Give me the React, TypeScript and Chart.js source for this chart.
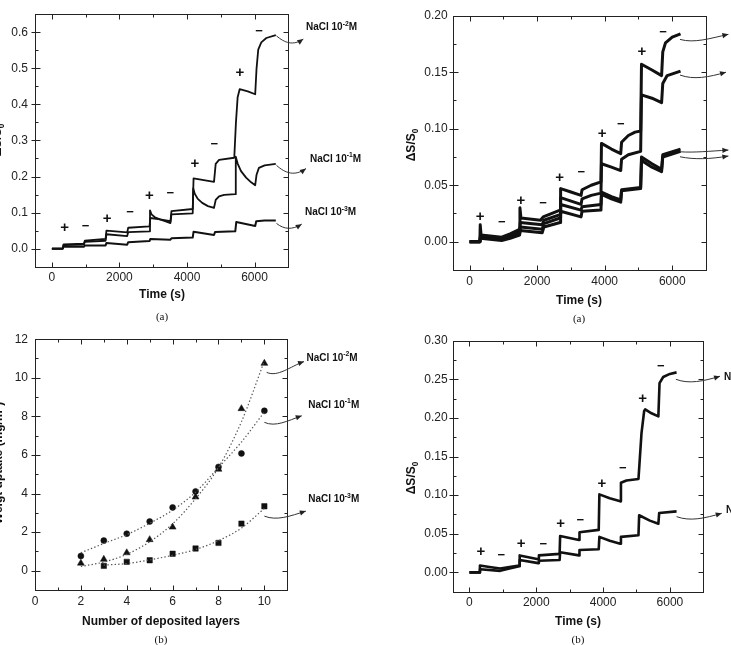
import React, { useEffect, useRef } from "react";
import { Chart, registerables } from "chart.js";

Chart.register(...registerables);

const FONT = '"Liberation Sans", Arial, Helvetica, sans-serif';
const SERIF = '"Liberation Serif", "Times New Roman", serif';
Chart.defaults.font.family = FONT;

// ================= Panel (a) left : ΔS/S0 vs time, three NaCl concentrations =================
const aTimeHi = [0, 320, 345, 950, 975, 1590, 1615, 2230, 2260, 2890, 2915, 3200, 3510, 3540, 4170, 4195, 4800, 4850, 4950, 5400, 5450, 5500, 5560, 5800, 6020, 6060, 6110, 6200, 6350, 6630];
const aSalt2 = [0, 0, 0.012, 0.014, 0.022, 0.027, 0.05, 0.045, 0.058, 0.062, 0.085, 0.081, 0.076, 0.104, 0.11, 0.195, 0.185, 0.235, 0.246, 0.252, 0.35, 0.42, 0.442, 0.436, 0.428, 0.5, 0.552, 0.572, 0.584, 0.592];
const aTimeMid = [0, 320, 345, 950, 975, 1590, 1615, 2230, 2260, 2890, 2905, 2950, 3050, 3200, 3350, 3510, 3540, 4170, 4185, 4230, 4320, 4450, 4620, 4800, 4850, 4950, 5100, 5430, 5445, 5500, 5600, 5750, 5900, 6020, 6060, 6130, 6300, 6630];
const aSalt1 = [0, 0, 0.01, 0.011, 0.019, 0.022, 0.04, 0.035, 0.046, 0.048, 0.106, 0.095, 0.087, 0.081, 0.076, 0.071, 0.095, 0.098, 0.167, 0.152, 0.138, 0.127, 0.118, 0.113, 0.135, 0.145, 0.149, 0.151, 0.255, 0.236, 0.215, 0.197, 0.184, 0.176, 0.205, 0.224, 0.231, 0.235];
const aTimeLo = [0, 320, 345, 950, 975, 1590, 1615, 2230, 2260, 2890, 2915, 3510, 3540, 4170, 4195, 4800, 4830, 5430, 5460, 6020, 6050, 6300, 6630];
const aSalt3 = [0, 0, 0.006, 0.005, 0.009, 0.009, 0.016, 0.011, 0.018, 0.021, 0.027, 0.025, 0.029, 0.031, 0.047, 0.038, 0.046, 0.048, 0.074, 0.063, 0.076, 0.078, 0.078];
const aXTicks = [0, 2000, 4000, 6000];
const aYTicks = [0, 0.1, 0.2, 0.3, 0.4, 0.5, 0.6];
const aSigns = ["+", "−", "+", "−", "+", "−", "+", "−", "+", "−"];
const aSignT = [374, 995, 1635, 2315, 2886, 3507, 4236, 4807, 5565, 6137];
const aSignY = [0.057, 0.063, 0.083, 0.1, 0.147, 0.152, 0.236, 0.288, 0.488, 0.603];

// ================= Panel (b) left : weight uptake vs number of layers =================
const layers = [2, 3, 4, 5, 6, 7, 8, 9, 10];
const uptake2 = [0.39, 0.59, 0.93, 1.61, 2.26, 3.82, 5.26, 8.4, 10.75];
const uptake1 = [0.76, 1.56, 1.92, 2.55, 3.28, 4.11, 5.38, 6.08, 8.29];
const layersSq = [3, 4, 5, 6, 7, 8, 9, 10];
const uptake3 = [0.25, 0.46, 0.54, 0.88, 1.15, 1.44, 2.44, 3.34];
const fit2 = [0.22, 0.45, 0.85, 1.5, 2.43, 3.73, 5.35, 7.72, 10.87];
const fit1 = [0.93, 1.41, 1.87, 2.46, 3.14, 4.07, 5.35, 6.67, 8.23];
const fit3 = [0.29, 0.37, 0.56, 0.8, 1.1, 1.56, 2.21, 3.23];
const bXTicks = [0, 2, 4, 6, 8, 10];
const bYTicks = [0, 2, 4, 6, 8, 10, 12];

// ================= Panel (a) right : ΔS/S0 vs time, four curves =================
const cTimeA = [0, 305, 315, 340, 950, 1200, 1480, 1491, 1520, 2100, 2180, 2680, 2695, 3000, 3300, 3330, 3600, 3890, 3905, 4200, 4475, 4500, 4700, 4900, 5065, 5090, 5400, 5685, 5720, 5800, 6000, 6246];
const cA = [0, 0, 0.015, 0.006, 0.004, 0.007, 0.011, 0.03, 0.021, 0.019, 0.022, 0.028, 0.047, 0.044, 0.041, 0.046, 0.05, 0.053, 0.087, 0.082, 0.078, 0.088, 0.094, 0.097, 0.098, 0.157, 0.152, 0.147, 0.168, 0.176, 0.181, 0.184];
const cTimeB = [0, 305, 320, 950, 1200, 1480, 1500, 2150, 2200, 2680, 2695, 3300, 3330, 3600, 3890, 3905, 4200, 4475, 4500, 4700, 5065, 5090, 5400, 5685, 5720, 5850, 6246];
const cB = [0, 0, 0.005, 0.003, 0.005, 0.009, 0.017, 0.015, 0.019, 0.024, 0.039, 0.033, 0.038, 0.041, 0.043, 0.069, 0.066, 0.063, 0.073, 0.077, 0.08, 0.13, 0.127, 0.123, 0.14, 0.147, 0.151];
const cTimeCD = [0, 305, 320, 950, 1200, 1480, 1500, 2150, 2200, 2680, 2695, 3300, 3330, 3890, 3905, 4200, 4475, 4500, 5065, 5090, 5400, 5685, 5720, 6246];
const cC = [0, 0, 0.004, 0.002, 0.004, 0.007, 0.013, 0.011, 0.016, 0.021, 0.033, 0.028, 0.031, 0.033, 0.044, 0.04, 0.037, 0.046, 0.048, 0.075, 0.069, 0.064, 0.077, 0.082];
const cD = [0, 0, 0.003, 0.001, 0.003, 0.006, 0.01, 0.008, 0.013, 0.017, 0.027, 0.022, 0.027, 0.028, 0.042, 0.038, 0.035, 0.045, 0.047, 0.072, 0.066, 0.062, 0.075, 0.08];
const cXTicks = [0, 2000, 4000, 6000];
const cYTicks = [0, 0.05, 0.1, 0.15, 0.2];
const cSigns = ["+", "−", "+", "−", "+", "−", "+", "−", "+", "−"];
const cSignT = [314, 951, 1520, 2176, 2667, 3304, 3922, 4480, 5098, 5725];
const cSignY = [0.0218, 0.0174, 0.0365, 0.0338, 0.0565, 0.061, 0.0953, 0.1035, 0.1676, 0.1853];

// ================= Panel (b) right : ΔS/S0 vs time, two curves =================
const dTimeTop = [0, 300, 315, 600, 920, 1200, 1490, 1505, 2060, 2080, 2700, 2715, 3280, 3295, 3870, 3890, 4200, 4515, 4535, 4700, 5060, 5150, 5230, 5260, 5450, 5655, 5690, 5800, 6000, 6200];
const dTop = [0, 0, 0.009, 0.007, 0.005, 0.007, 0.009, 0.022, 0.017, 0.022, 0.024, 0.047, 0.042, 0.052, 0.055, 0.101, 0.096, 0.092, 0.116, 0.119, 0.121, 0.18, 0.209, 0.211, 0.206, 0.202, 0.245, 0.253, 0.257, 0.259];
const dTimeBot = [0, 300, 315, 920, 1200, 1490, 1505, 2060, 2080, 2700, 2715, 3280, 3295, 3870, 3890, 4200, 4515, 4535, 5060, 5080, 5400, 5655, 5680, 6200];
const dBot = [0, 0, 0.004, 0.002, 0.005, 0.008, 0.016, 0.012, 0.015, 0.016, 0.026, 0.022, 0.029, 0.03, 0.046, 0.041, 0.037, 0.046, 0.048, 0.074, 0.067, 0.063, 0.077, 0.079];
const dXTicks = [0, 2000, 4000, 6000];
const dYTicks = [0, 0.05, 0.1, 0.15, 0.2, 0.25, 0.3];
const dSigns = ["+", "−", "+", "−", "+", "−", "+", "−", "+", "−"];
const dSignT = [347, 952, 1547, 2211, 2727, 3322, 3966, 4591, 5186, 5731];
const dSignY = [0.0268, 0.0225, 0.0367, 0.0367, 0.0626, 0.067, 0.114, 0.134, 0.2246, 0.2665];

// ================= helpers =================
type Part = { t: string; s?: "sup" | "sub" };
interface Mark { sign: string; x: number; y: number }
interface Label { parts: Part[]; x: number; y: number }
interface Arrow { x0: number; y0: number; x1: number; y1: number; sag: number }
interface AxisSpec { min: number; max: number; ticks: number[]; minor: number; dec: number }
interface Panel {
  box: { left: number; top: number; w: number; h: number };
  area: { l: number; r: number; t: number; b: number };
  x: AxisSpec;
  y: AxisSpec;
  yPad: number;
  datasets: any[];
  marks: Mark[];
  labels: Label[];
  arrows: Arrow[];
  xTitle: { text: string; x: number; y: number };
  caption: { text: string; x: number; y: number };
  yTitle: { parts: Part[]; x: number; y: number };
}

const pts = (xs: number[], ys: number[]) => xs.map((x, i) => ({ x, y: ys[i] }));
const lineDs = (xs: number[], ys: number[], w: number) => ({
  data: pts(xs, ys),
  showLine: true,
  pointRadius: 0,
  borderColor: "#111",
  backgroundColor: "#111",
  borderWidth: w,
  tension: 0,
  borderJoinStyle: "round",
});
const markerDs = (xs: number[], ys: number[], style: string, r: number) => ({
  data: pts(xs, ys),
  showLine: false,
  pointStyle: style,
  pointRadius: r,
  borderWidth: 0.5,
  borderColor: "#111",
  backgroundColor: "#111",
});
const fitDs = (xs: number[], ys: number[]) => ({
  data: pts(xs, ys),
  showLine: true,
  pointRadius: 0,
  borderColor: "#555",
  borderWidth: 1.2,
  borderDash: [1.4, 2.2],
  cubicInterpolationMode: "monotone",
});
const signs = (s: string[], t: number[], y: number[]): Mark[] => s.map((sign, i) => ({ sign, x: t[i], y: y[i] }));
const nacl = (e: string): Part[] => [{ t: "NaCl 10" }, { t: e, s: "sup" }, { t: "M" }];
const dsTitle: Part[] = [{ t: "ΔS/S" }, { t: "0", s: "sub" }];

function drawRich(ctx: CanvasRenderingContext2D, parts: Part[], x: number, y: number, size: number, align: "left" | "center") {
  const small = size * 0.68;
  let w = 0;
  for (const p of parts) {
    ctx.font = `bold ${p.s ? small : size}px ${FONT}`;
    w += ctx.measureText(p.t).width;
  }
  let cx = align === "center" ? x - w / 2 : x;
  ctx.textAlign = "left";
  ctx.textBaseline = "middle";
  for (const p of parts) {
    ctx.font = `bold ${p.s ? small : size}px ${FONT}`;
    const dy = p.s === "sup" ? -size * 0.38 : p.s === "sub" ? size * 0.32 : 0;
    ctx.fillText(p.t, cx, y + dy);
    cx += ctx.measureText(p.t).width;
  }
}

function drawArrow(ctx: CanvasRenderingContext2D, x0: number, y0: number, x1: number, y1: number, sag: number) {
  const dx = x1 - x0;
  const c1x = x0 + dx * 0.3, c1y = y0 + sag;
  const c2x = x0 + dx * 0.62, c2y = y1 + sag;
  ctx.beginPath();
  ctx.moveTo(x0, y0);
  ctx.bezierCurveTo(c1x, c1y, c2x, c2y, x1, y1);
  ctx.stroke();
  const ang = Math.atan2(y1 - c2y, x1 - c2x);
  const hl = 6, hw = 2.6;
  const bx = x1 - hl * Math.cos(ang), by = y1 - hl * Math.sin(ang);
  ctx.beginPath();
  ctx.moveTo(x1, y1);
  ctx.lineTo(bx + hw * Math.sin(ang), by - hw * Math.cos(ang));
  ctx.lineTo(bx - hw * Math.sin(ang), by + hw * Math.cos(ang));
  ctx.closePath();
  ctx.fill();
}

function makePlugin(p: Panel) {
  return {
    id: "decor",
    afterDraw(chart: any) {
      const ctx: CanvasRenderingContext2D = chart.ctx;
      const a = chart.chartArea;
      const xs = chart.scales.x, ys = chart.scales.y;
      const ox = p.box.left, oy = p.box.top;
      ctx.save();
      ctx.strokeStyle = "#222";
      ctx.fillStyle = "#111";
      ctx.lineWidth = 1;
      const L = Math.round(a.left) + 0.5, R = Math.round(a.right) + 0.5;
      const T = Math.round(a.top) + 0.5, B = Math.round(a.bottom) + 0.5;
      ctx.strokeRect(L, T, R - L, B - T);
      ctx.beginPath();
      const isMaj = (arr: number[], v: number, step: number) => arr.some((m) => Math.abs(m - v) < step * 1e-3);
      // x ticks
      {
        const s = p.x.minor;
        for (let k = Math.ceil(p.x.min / s - 1e-6); k * s <= p.x.max + 1e-9; k++) {
          const v = k * s;
          const px = Math.round(xs.getPixelForValue(v)) + 0.5;
          if (px <= L + 1 || px >= R - 1) continue;
          const len = isMaj(p.x.ticks, v, s) ? 5 : 3;
          ctx.moveTo(px, B); ctx.lineTo(px, B - len);
          ctx.moveTo(px, T); ctx.lineTo(px, T + len);
        }
      }
      // y ticks
      {
        const s = p.y.minor;
        for (let k = Math.ceil(p.y.min / s - 1e-6); k * s <= p.y.max + 1e-9; k++) {
          const v = k * s;
          const py = Math.round(ys.getPixelForValue(v)) + 0.5;
          if (py <= T + 1 || py >= B - 1) continue;
          const maj = isMaj(p.y.ticks, v, s);
          const len = maj ? 5 : 3;
          ctx.moveTo(maj ? L - 4 : L, py); ctx.lineTo(L + len, py);
          ctx.moveTo(R, py); ctx.lineTo(R - len, py);
        }
      }
      ctx.stroke();

      // +/- markers
      ctx.textAlign = "center";
      ctx.textBaseline = "middle";
      for (const m of p.marks) {
        ctx.font = `bold ${m.sign === "+" ? 15 : 13}px ${FONT}`;
        ctx.fillText(m.sign, xs.getPixelForValue(m.x), ys.getPixelForValue(m.y));
      }
      // arrows
      ctx.strokeStyle = "#333";
      ctx.fillStyle = "#222";
      for (const ar of p.arrows) {
        drawArrow(ctx, xs.getPixelForValue(ar.x0), ys.getPixelForValue(ar.y0), xs.getPixelForValue(ar.x1), ys.getPixelForValue(ar.y1), ar.sag);
      }
      ctx.fillStyle = "#111";
      // labels
      for (const l of p.labels) {
        drawRich(ctx, l.parts, xs.getPixelForValue(l.x), ys.getPixelForValue(l.y), 10, "left");
      }
      // axis title + caption
      ctx.textAlign = "center";
      ctx.textBaseline = "middle";
      ctx.font = `bold 12px ${FONT}`;
      ctx.fillText(p.xTitle.text, p.xTitle.x - ox, p.xTitle.y - oy);
      ctx.font = `11px ${SERIF}`;
      ctx.fillText(p.caption.text, p.caption.x - ox, p.caption.y - oy);
      ctx.save();
      ctx.translate(p.yTitle.x - ox, p.yTitle.y - oy);
      ctx.rotate(-Math.PI / 2);
      drawRich(ctx, p.yTitle.parts, 0, 0, 12, "center");
      ctx.restore();
      ctx.restore();
    },
  };
}

const fmt = (v: any, dec: number) => Number(v).toFixed(dec);

function buildConfig(p: Panel): any {
  const yW = p.area.l - p.box.left;
  const xH = p.box.top + p.box.h - p.area.b;
  const tickFont = { family: FONT, size: 12 };
  return {
    type: "scatter",
    data: { datasets: p.datasets },
    options: {
      responsive: false,
      animation: false,
      devicePixelRatio: 1,
      layout: { padding: { left: 0, top: p.area.t - p.box.top, right: p.box.left + p.box.w - p.area.r, bottom: 0 } },
      plugins: { legend: { display: false }, tooltip: { enabled: false } },
      scales: {
        x: {
          type: "linear",
          position: "bottom",
          min: p.x.min,
          max: p.x.max,
          grid: { display: false, drawTicks: false },
          border: { display: false },
          ticks: { autoSkip: false, maxRotation: 0, minRotation: 0, padding: 4, color: "#222", font: tickFont, callback: (v: any) => fmt(v, p.x.dec) },
          afterBuildTicks: (s: any) => { s.ticks = p.x.ticks.map((v) => ({ value: v })); },
          afterFit: (s: any) => { s.height = xH; },
        },
        y: {
          type: "linear",
          position: "left",
          min: p.y.min,
          max: p.y.max,
          grid: { display: false, drawTicks: false },
          border: { display: false },
          ticks: { autoSkip: false, padding: p.yPad, color: "#222", font: tickFont, callback: (v: any) => fmt(v, p.y.dec) },
          afterBuildTicks: (s: any) => { s.ticks = p.y.ticks.map((v) => ({ value: v })); },
          afterFit: (s: any) => { s.width = yW; },
        },
      },
    },
    plugins: [makePlugin(p)],
  };
}

// ================= panel specs =================
const panels: Panel[] = [
  {
    box: { left: 0, top: 0, w: 370, h: 330 },
    area: { l: 35, r: 288.3, t: 13.3, b: 266.7 },
    x: { min: -500, max: 7000, ticks: aXTicks, minor: 1000, dec: 0 },
    y: { min: -0.05, max: 0.65, ticks: aYTicks, minor: 0.05, dec: 1 },
    yPad: 7,
    datasets: [lineDs(aTimeHi, aSalt2, 1.8), lineDs(aTimeMid, aSalt1, 1.8), lineDs(aTimeLo, aSalt3, 2)],
    marks: signs(aSigns, aSignT, aSignY),
    labels: [
      { parts: nacl("-2"), x: 7524, y: 0.613 },
      { parts: nacl("-1"), x: 7643, y: 0.249 },
      { parts: nacl("-3"), x: 7495, y: 0.1 },
    ],
    arrows: [
      { x0: 6650, y0: 0.59, x1: 7444, y1: 0.581, sag: 7 },
      { x0: 6650, y0: 0.231, x1: 7524, y1: 0.222, sag: 8 },
      { x0: 6650, y0: 0.07, x1: 7397, y1: 0.068, sag: 6 },
    ],
    xTitle: { text: "Time (s)", x: 162, y: 295 },
    caption: { text: "(a)", x: 162, y: 317 },
    yTitle: { parts: dsTitle, x: -2.5, y: 140 },
  },
  {
    box: { left: 370, top: 0, w: 361, h: 330 },
    area: { l: 452.7, r: 706, t: 15.7, b: 270 },
    x: { min: -500, max: 7000, ticks: cXTicks, minor: 1000, dec: 0 },
    y: { min: -0.025, max: 0.2, ticks: cYTicks, minor: 0.025, dec: 2 },
    yPad: 5,
    datasets: [lineDs(cTimeA, cA, 3), lineDs(cTimeB, cB, 3), lineDs(cTimeCD, cC, 3), lineDs(cTimeCD, cD, 3)],
    marks: signs(cSigns, cSignT, cSignY),
    labels: [],
    arrows: [
      { x0: 6230, y0: 0.179, x1: 7663, y1: 0.1835, sag: 4 },
      { x0: 6230, y0: 0.1475, x1: 7593, y1: 0.15, sag: 5 },
      { x0: 6230, y0: 0.0796, x1: 7663, y1: 0.0811, sag: 1 },
      { x0: 6230, y0: 0.0752, x1: 7663, y1: 0.0758, sag: 3 },
    ],
    xTitle: { text: "Time (s)", x: 579, y: 301 },
    caption: { text: "(a)", x: 579, y: 319 },
    yTitle: { parts: dsTitle, x: 411.7, y: 145 },
  },
  {
    box: { left: 0, top: 325, w: 370, h: 320 },
    area: { l: 35, r: 287.3, t: 335.7, b: 590 },
    x: { min: 0, max: 11, ticks: bXTicks, minor: 1, dec: 0 },
    y: { min: -1, max: 12, ticks: bYTicks, minor: 1, dec: 0 },
    yPad: 7,
    datasets: [
      fitDs(layers, fit2),
      fitDs(layers, fit1),
      fitDs(layersSq, fit3),
      markerDs(layers, uptake2, "triangle", 4),
      markerDs(layers, uptake1, "circle", 3),
      markerDs(layersSq, uptake3, "rect", 3.8),
    ],
    marks: [],
    labels: [
      { parts: nacl("-2"), x: 11.84, y: 11.01 },
      { parts: nacl("-1"), x: 11.91, y: 8.57 },
      { parts: nacl("-3"), x: 11.91, y: 3.69 },
    ],
    arrows: [
      { x0: 10.1, y0: 10.28, x1: 11.73, y1: 10.84, sag: 5 },
      { x0: 10.0, y0: 7.69, x1: 11.63, y1: 8.03, sag: 5 },
      { x0: 10.0, y0: 2.83, x1: 11.81, y1: 3.09, sag: 5 },
    ],
    xTitle: { text: "Number of deposited layers", x: 161, y: 621.7 },
    caption: { text: "(b)", x: 161, y: 640.5 },
    yTitle: { parts: [{ t: "Weigt uptake (mg/m" }, { t: "2", s: "sup" }, { t: ")" }], x: -1.5, y: 463 },
  },
  {
    box: { left: 370, top: 325, w: 361, h: 320 },
    area: { l: 452.7, r: 703.3, t: 340.7, b: 591.7 },
    x: { min: -500, max: 7000, ticks: dXTicks, minor: 1000, dec: 0 },
    y: { min: -0.025, max: 0.3, ticks: dYTicks, minor: 0.025, dec: 2 },
    yPad: 5,
    datasets: [lineDs(dTimeTop, dTop, 2.6), lineDs(dTimeBot, dBot, 2.6)],
    marks: signs(dSigns, dSignT, dSignY),
    labels: [
      { parts: nacl("-2"), x: 7619, y: 0.253 },
      { parts: nacl("-3"), x: 7678, y: 0.081 },
    ],
    arrows: [
      { x0: 6180, y0: 0.25, x1: 7501, y1: 0.254, sag: 5 },
      { x0: 6200, y0: 0.0722, x1: 7552, y1: 0.0765, sag: 5 },
    ],
    xTitle: { text: "Time (s)", x: 578, y: 621.7 },
    caption: { text: "(b)", x: 578, y: 640 },
    yTitle: { parts: dsTitle, x: 411.7, y: 478 },
  },
];

function PanelChart({ p }: { p: Panel }) {
  const ref = useRef<HTMLCanvasElement>(null);
  useEffect(() => {
    const c = ref.current;
    if (!c) return;
    const chart = new Chart(c, buildConfig(p));
    return () => chart.destroy();
  }, [p]);
  return (
    <canvas
      ref={ref}
      width={p.box.w}
      height={p.box.h}
      style={{ position: "absolute", left: p.box.left, top: p.box.top, width: p.box.w, height: p.box.h }}
    />
  );
}

export default function App() {
  return (
    <div style={{ position: "absolute", left: 0, top: 0, width: 731, height: 645, background: "#fff", overflow: "hidden" }}>
      {panels.map((p, i) => (
        <PanelChart key={i} p={p} />
      ))}
    </div>
  );
}
